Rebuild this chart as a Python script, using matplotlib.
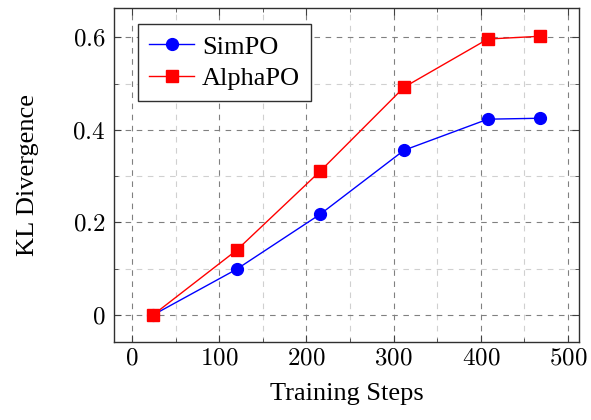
import numpy as np
import matplotlib
matplotlib.use("Agg")
import matplotlib.pyplot as plt
from matplotlib.ticker import MultipleLocator

# data
steps = [24, 120, 216, 312, 408, 468]
simpo_kl = [0.0, 0.099, 0.218, 0.356, 0.423, 0.425]
alphapo_kl = [0.0, 0.140, 0.311, 0.492, 0.596, 0.602]

x_ticks = [0, 100, 200, 300, 400, 500]
x_tick_labels = ["$0$", "$100$", "$200$", "$300$", "$400$", "$500$"]
y_ticks = [0, 0.2, 0.4, 0.6]
y_tick_labels = ["$0$", "$0.2$", "$0.4$", "$0.6$"]

plt.rcParams['font.family'] = ['Liberation Serif', 'DejaVu Serif']
plt.rcParams['mathtext.fontset'] = 'cm'

fig = plt.figure(figsize=(5.91, 4.2), dpi=100)
ax = fig.add_axes([114 / 591, 1 - 342 / 420, (579 - 114) / 591, (342 - 8) / 420])

ax.plot(steps, simpo_kl, color='blue', lw=1, marker='o', ms=8.5,
        label='SimPO', zorder=3)
ax.plot(steps, alphapo_kl, color='red', lw=1, marker='s', ms=8.5,
        label='AlphaPO', zorder=3)

ax.set_xlim(-20.5, 512.5)
ax.set_ylim(-0.058, 0.663)
ax.set_xticks(x_ticks)
ax.set_xticklabels(x_tick_labels)
ax.set_yticks(y_ticks)
ax.set_yticklabels(y_tick_labels)
ax.xaxis.set_minor_locator(MultipleLocator(50))
ax.yaxis.set_minor_locator(MultipleLocator(0.1))

ax.grid(which='major', color='#808080', ls=(0, (5, 5)), lw=0.8)
ax.grid(which='minor', color='#d0d0d0', ls=(0, (5, 5)), lw=0.8)
ax.set_axisbelow(True)

ax.tick_params(which='both', direction='in', top=True, right=True,
               labelsize=18, color='#404040')
ax.tick_params(which='major', length=5, width=0.8)
ax.tick_params(which='minor', length=3, width=0.6)
ax.tick_params(axis='x', pad=4)
ax.tick_params(axis='y', pad=6)
for s in ax.spines.values():
    s.set_linewidth(1.0)
    s.set_color('#303030')

ax.set_xlabel('Training Steps', fontsize=19, labelpad=10)
ax.set_ylabel('KL Divergence', fontsize=19, labelpad=24)

leg = ax.legend(loc='upper left', bbox_to_anchor=(0.052, 0.952), fontsize=19,
                fancybox=False, framealpha=1, edgecolor='#303030',
                handlelength=1.7, borderpad=0.42, labelspacing=0.3,
                handletextpad=0.3, borderaxespad=0)
leg.get_frame().set_linewidth(1.0)

fig.savefig('out.png', dpi=100)
